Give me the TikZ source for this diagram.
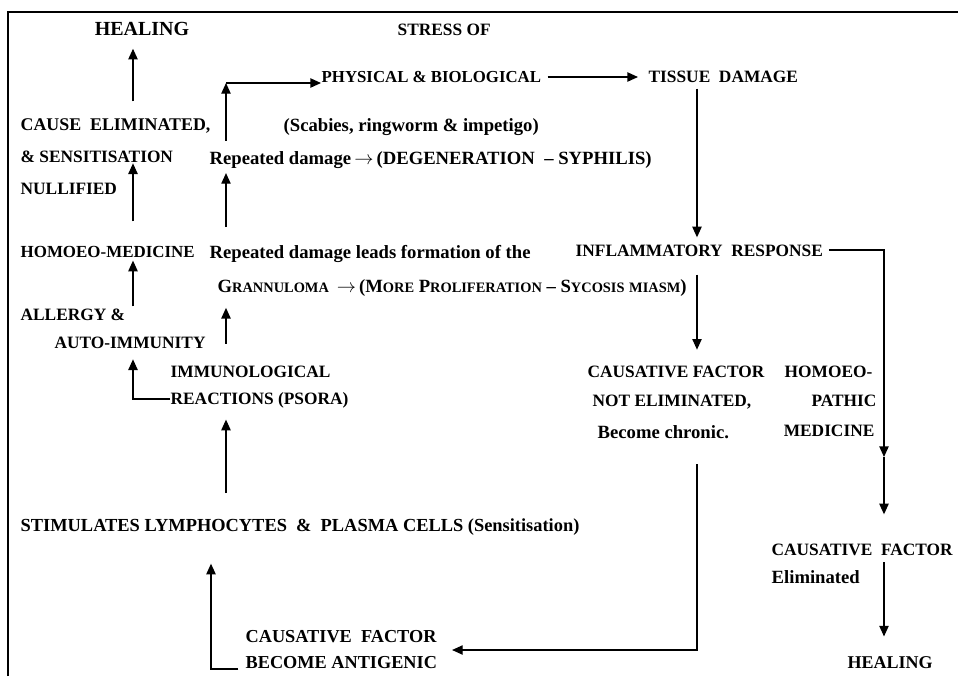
\documentclass[tikz,border=0pt]{standalone}
\usepackage{fontspec}
\setmainfont{Liberation Serif}
\usetikzlibrary{arrows.meta,calc}
\tikzset{every picture/.style={line width=1pt}}
\tikzset{
  txt/.style={anchor=west,inner sep=0pt,text height=8.5pt,text depth=0pt,font=\bfseries\fontsize{13}{15}\selectfont},
  lowtxt/.style={txt,text height=9.2pt,font=\bfseries\fontsize{14}{16}\selectfont},
  arr/.style={-{Triangle[width=7pt,length=8pt]}},
}
\newcommand\fsc[2]{#1{\fontsize{10.8}{12}\selectfont #2}}
\newcommand\txtarrow{\,$\rightarrow$\,}

\begin{document}
\begin{tikzpicture}[x=0.75pt,y=0.75pt,yscale=-1,xscale=1]
\useasboundingbox (0,0) rectangle (958,676);
%Frame
\draw (8,676) -- (8,12) -- (958,12);
%Columns of the arrows
\coordinate (colA) at (133,0);
\coordinate (colB) at (226,0);
\coordinate (colC) at (697,0);
\coordinate (colD) at (884,0);
\coordinate (colE) at (211,0);
\coordinate (turn) at (226,83);
\coordinate (medTip) at (884,457);
% Text Node
\draw (142,29) node [txt,anchor=center,text height=9.8pt,font=\bfseries\fontsize{15}{17}\selectfont] (healTop) {HEALING};
% Text Node
\draw (397,30) node [txt] (stress) {STRESS OF};
% Text Node
\draw (321,77) node [txt,font=\bfseries\fontsize{12.6}{15}\selectfont] (phys) {PHYSICAL \& BIOLOGICAL};
% Text Node
\draw (648,77) node [txt] (tissue) {TISSUE\ \ DAMAGE};
% Text Node
\draw (20,125) node [txt,font=\bfseries\fontsize{13.4}{15}\selectfont] (cause) {CAUSE\ \ ELIMINATED,};
% Text Node
\draw (283,125) node [lowtxt] (scab) {(Scabies, ringworm \& impetigo)};
% Text Node
\draw (20,157) node [txt] (sensit) {\& SENSITISATION};
% Text Node
\draw (209,158) node [lowtxt] (rep1) {Repeated damage\txtarrow(DEGENERATION\ \ -- SYPHILIS)};
% Text Node
\draw (20,189) node [txt] (nullif) {NULLIFIED};
% Text Node
\draw (20,252) node [txt,font=\bfseries\fontsize{12.7}{15}\selectfont] (homMed) {HOMOEO-MEDICINE};
% Text Node
\draw (209,252) node [lowtxt] (rep2) {Repeated damage leads formation of the};
% Text Node
\draw (575,251) node [txt] (inflam) {INFLAMMATORY\ \ RESPONSE};
% Text Node
\draw (217,286) node [lowtxt] (gran) {\fsc{G}{RANNULOMA}\ \txtarrow(\fsc{M}{ORE} \fsc{P}{ROLIFERATION} -- \fsc{S}{YCOSIS} {\fontsize{10.8}{12}\selectfont MIASM})};
% Text Node
\draw (20,315) node [txt] (allergy) {ALLERGY \&};
% Text Node
\draw (54,343) node [txt] (auto) {AUTO-IMMUNITY};
% Text Node
\draw (170,372) node [txt] (immun) {IMMUNOLOGICAL};
% Text Node
\draw (170,399) node [txt] (react) {REACTIONS (PSORA)};
% Text Node
\draw (587,372) node [txt] (caus1) {CAUSATIVE FACTOR};
% Text Node
\draw (592,401) node [txt] (notElim) {NOT ELIMINATED,};
% Text Node
\draw (597,432) node [lowtxt] (chronic) {Become chronic.};
% Text Node
\draw (873,372) node [txt,anchor=east] (hom1) {HOMOEO-};
% Text Node
\draw (877,401) node [txt,anchor=east] (hom2) {PATHIC};
% Text Node
\draw (875,431) node [txt,anchor=east] (hom3) {MEDICINE};
% Text Node
\draw (20,525) node [txt,text height=9pt,font=\bfseries\fontsize{13.8}{16}\selectfont] (stim) {STIMULATES LYMPHOCYTES\ \ \&\ \ PLASMA CELLS (Sensitisation)};
% Text Node
\draw (771,550) node [txt] (caus2) {CAUSATIVE\ \ FACTOR};
% Text Node
\draw (771,577) node [lowtxt] (elim) {Eliminated};
% Text Node
\draw (847,663) node [txt,text height=8.8pt,font=\bfseries\fontsize{13.5}{15}\selectfont] (healBot) {HEALING};
% Text Node
\draw (245,637) node [txt,font=\bfseries\fontsize{13.7}{16}\selectfont] (caus3) {CAUSATIVE\ \ FACTOR};
% Text Node
\draw (245,663) node [txt,font=\bfseries\fontsize{13.7}{16}\selectfont] (antig) {BECOME ANTIGENIC};
%Left column arrows
\draw [arr,shorten <=13pt,shorten >=9.4pt] (cause.north -| colA) -- (healTop.south -| colA);
\draw [arr,shorten <=18.2pt] (homMed.north -| colA) -- (sensit.south -| colA);
\draw [arr,shorten <=1.7pt,shorten >=1.7pt] (allergy.north -| colA) -- (homMed.south -| colA);
\draw [arr,shorten >=7.5pt] (react.west) -| (auto.south -| colA);
%Middle column arrows
\draw [arr,shorten <=7.7pt] (rep1.north -| colB) -- (turn);
\draw [arr] (turn) -- (turn -| phys.west);
\draw [arr,shorten <=13.5pt,shorten >=6.2pt] (rep2.north -| colB) -- (rep1.south -| colB);
\draw [arr,shorten <=16.5pt,shorten >=11.3pt] (immun.north -| colB) -- (gran.south -| colB);
\draw [arr,shorten <=19pt,shorten >=10.7pt] (stim.north -| colB) -- (react.south -| colB);
\draw [arr,shorten <=5pt,shorten >=24pt] ([yshift=4.5pt]antig.west) -| (stim.south -| colE);
%Right side arrows
\draw [arr,shorten <=4.5pt,shorten >=7.5pt] (phys.east) -- (phys.east -| tissue.west);
\draw [arr,shorten <=4pt,shorten >=5.5pt] (tissue.south -| colC) -- (inflam.north -| colC);
\draw [arr,shorten <=13pt,shorten >=12pt] (inflam.south -| colC) -- (caus1.north -| colC);
\draw [arr,shorten <=19pt,shorten >=11pt] (chronic.south -| colC) |- ($(caus3.south east)!.5!(antig.north east)$);
\draw [arr,shorten <=4pt] ([yshift=4pt]inflam.north east) -| (medTip);
\draw [arr,shorten >=22pt] (medTip) -- (caus2.north -| colD);
\draw [arr,shorten <=4.5pt,shorten >=15pt] (caus2.south -| colD) -- (healBot.north -| colD);
\end{tikzpicture}
\end{document}
